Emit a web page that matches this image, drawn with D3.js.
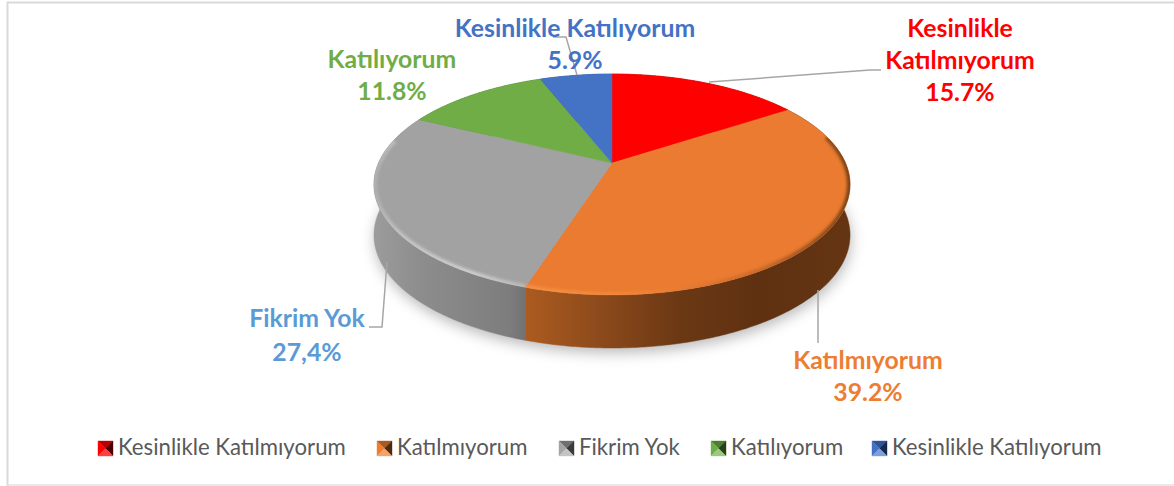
<!DOCTYPE html>
<html>
<head>
<meta charset="utf-8">
<script src="https://cdn.jsdelivr.net/npm/d3@7"></script>
<style>
html, body { margin: 0; padding: 0; background: #fff; }
svg { display: block; }
text { font-family: Lato, "Open Sans", sans-serif; }
</style>
</head>
<body>
<div id="chart"></div>
<script>
var width = 1174;
var height = 486;

var categories = ["Kesinlikle Katılmıyorum", "Katılmıyorum", "Fikrim Yok", "Katılıyorum", "Kesinlikle Katılıyorum"];
var values = [15.7, 39.2, 27.4, 11.8, 5.9];
var valueLabels = ["15.7%", "39.2%", "27,4%", "11.8%", "5.9%"];
var sliceColors = ["#ff0000", "#ea7b30", "#a2a2a2", "#70ad47", "#4472c4"];
var labelColors = ["#ff0000", "#ed7d31", "#5b9bd5", "#70ad47", "#4472c4"];
var swatchShades = [
    ["#b80000", "#ff0000", "#4a0000", "#ff4040"],
    ["#a85a20", "#ed7d31", "#4f290d", "#f4a26a"],
    ["#6f6f6f", "#a5a5a5", "#3a3a3a", "#c4c4c4"],
    ["#4f7d32", "#70ad47", "#27401a", "#9cc97f"],
    ["#2f5597", "#4472c4", "#16294e", "#7f9fdb"]
];

// text blocks and leader lines, one per slice
var labelLines = [["Kesinlikle", "Katılmıyorum"], ["Katılmıyorum"], ["Fikrim Yok"], ["Katılıyorum"], ["Kesinlikle Katılıyorum"]];
var labelX = [960, 868, 307, 392, 575];
var labelY = [37, 369, 327, 68, 37];
var leaders = [
    [[709, 82], [870, 70], [881, 70]],
    [[818, 290], [818, 343]],
    [[387, 262], [382, 327], [369, 327]],
    [],
    [[553, 37], [566, 37], [577, 75]]
];
var legendSwatchX = [98, 377, 559, 711, 872];

// pie geometry: a flat disc seen in perspective
var cx = 612, cy = 163, rx = 233.5, ry = 106.3, persp = 0.1945, depth = 50;

function project(angle, drop) {
    var u = Math.sin(angle), v = -Math.cos(angle);
    var w = 1 - persp * v;
    return [cx + rx * u / w, cy + ry * v / w + (drop ? depth + 3 * v : 0)];
}

function arcPoints(a0, a1, drop) {
    var n = Math.max(2, Math.ceil((a1 - a0) / 0.01));
    return d3.range(n + 1).map(function(i) { return project(a0 + (a1 - a0) * i / n, drop); });
}

var line = d3.line();

var svg = d3.select("#chart").append("svg")
    .attr("width", width)
    .attr("height", height);

var defs = svg.append("defs");

defs.append("filter").attr("id", "shadow")
    .attr("x", "-10%").attr("y", "-20%").attr("width", "120%").attr("height", "140%")
    .append("feGaussianBlur").attr("stdDeviation", 7);
defs.append("filter").attr("id", "bevel")
    .attr("x", "-5%").attr("y", "-5%").attr("width", "110%").attr("height", "110%")
    .append("feGaussianBlur").attr("stdDeviation", 1.4);

function gradient(id, stops) {
    var g = defs.append("linearGradient").attr("id", id)
        .attr("gradientUnits", "userSpaceOnUse")
        .attr("x1", cx - 238).attr("x2", cx + 238).attr("y1", 0).attr("y2", 0);
    stops.forEach(function(s) {
        g.append("stop").attr("offset", (s[0] - (cx - 238)) / 476).attr("stop-color", s[1]);
    });
}

gradient("side1", [[527, "#ab5b20"], [600, "#8c4a1b"], [680, "#6b3814"], [760, "#5f3111"], [851, "#653513"]]);
gradient("side2", [[374, "#9c9c9c"], [420, "#8d8d8d"], [470, "#848484"], [510, "#7d7d7d"], [527, "#707070"]]);
gradient("rim1", [[527, "#f69043"], [650, "#f08238"], [760, "#c96a28"], [830, "#8a4a1c"], [851, "#7a4117"]]);
gradient("rim2", [[374, "#b0b0b0"], [400, "#c4c4c4"], [470, "#cfcfcf"], [527, "#b9b9b9"]]);

var pie = d3.pie().sort(null)(values);

svg.append("rect").attr("width", width).attr("height", height).attr("fill", "#fff");

// chart frame, no right edge in the picture
svg.append("path")
    .attr("d", "M7.5,486V2.5H1174")
    .attr("fill", "none").attr("stroke", "#d9d9d9").attr("stroke-width", 2);
svg.append("path")
    .attr("d", "M7,485H1174")
    .attr("fill", "none").attr("stroke", "#e2e2e2").attr("stroke-width", 1.5);

// soft shadow under the disc
svg.append("path")
    .attr("d", line(arcPoints(0, 2 * Math.PI, true).map(function(p) { return [p[0] + 1, p[1] + 5]; })) + "Z")
    .attr("fill", "#000").attr("fill-opacity", 0.27)
    .attr("filter", "url(#shadow)");

// side wall, then the top face on top of it
var sides = svg.append("g");
pie.forEach(function(d, i) {
    var top = arcPoints(d.startAngle, d.endAngle, false);
    var bottom = arcPoints(d.startAngle, d.endAngle, true).reverse();
    var fill = i == 1 ? "url(#side1)" : i == 2 ? "url(#side2)" : d3.color(sliceColors[i]).darker(1.2);
    sides.append("path")
        .attr("d", line(top.concat(bottom)) + "Z")
        .attr("fill", fill)
        .attr("stroke", fill).attr("stroke-width", 0.5);
});

var clip = defs.append("clipPath").attr("id", "topClip");
clip.append("path").attr("d", line(arcPoints(0, 2 * Math.PI, false)) + "Z");

var tops = svg.append("g");
pie.forEach(function(d, i) {
    tops.append("path")
        .attr("d", line([[cx, cy]].concat(arcPoints(d.startAngle, d.endAngle, false))) + "Z")
        .attr("fill", sliceColors[i])
        .attr("stroke", sliceColors[i]).attr("stroke-width", 0.4);
});

// rounded edge, only on the front part of the rim
var rimFrom = [0, 75 * Math.PI / 180, 0, 0, 0];
var rimTo = [0, 0, 283 * Math.PI / 180, 0, 0];
var rims = svg.append("g").attr("clip-path", "url(#topClip)");
pie.forEach(function(d, i) {
    if (i != 1 && i != 2) return;
    var a0 = Math.max(d.startAngle, rimFrom[i]);
    var a1 = i == 2 ? rimTo[i] : d.endAngle;
    rims.append("path")
        .attr("d", line(arcPoints(a0, a1, false)))
        .attr("fill", "none")
        .attr("stroke", i == 1 ? "url(#rim1)" : "url(#rim2)")
        .attr("stroke-width", 6)
        .attr("filter", "url(#bevel)");
});

// leader lines
var leaderGroup = svg.append("g");
leaders.forEach(function(pts) {
    if (!pts.length) return;
    leaderGroup.append("path")
        .attr("d", line(pts))
        .attr("fill", "none")
        .attr("stroke", "#a6a6a6")
        .attr("stroke-width", 1.5);
});

// data labels
categories.forEach(function(c, i) {
    var t = svg.append("text")
        .attr("text-anchor", "middle")
        .attr("font-size", 24.8)
        .attr("font-weight", 700)
        .attr("fill", labelColors[i]);
    labelLines[i].concat([valueLabels[i]]).forEach(function(s, j) {
        t.append("tspan")
            .attr("x", labelX[i])
            .attr("y", labelY[i] + j * 32 + (i == 2 && j > 0 ? 2 : 0))
            .text(s);
    });
});

// legend
var legend = svg.append("g");
categories.forEach(function(c, i) {
    var x = legendSwatchX[i], y = 441, s = 15;
    var g = legend.append("g").attr("transform", "translate(" + x + "," + y + ")");
    var tris = [
        [[0, 0], [s, 0], [s / 2, s / 2]],
        [[0, 0], [0, s], [s / 2, s / 2]],
        [[s, 0], [s, s], [s / 2, s / 2]],
        [[0, s], [s, s], [s / 2, s / 2]]
    ];
    tris.forEach(function(tri, j) {
        g.append("path").attr("d", line(tri) + "Z")
            .attr("fill", swatchShades[i][j])
            .attr("stroke", swatchShades[i][j]).attr("stroke-width", 0.4);
    });
    legend.append("text")
        .attr("x", x + 20)
        .attr("y", 455)
        .attr("font-size", 22.2)
        .attr("fill", "#595959")
        .text(c);
});
</script>
</body>
</html>
